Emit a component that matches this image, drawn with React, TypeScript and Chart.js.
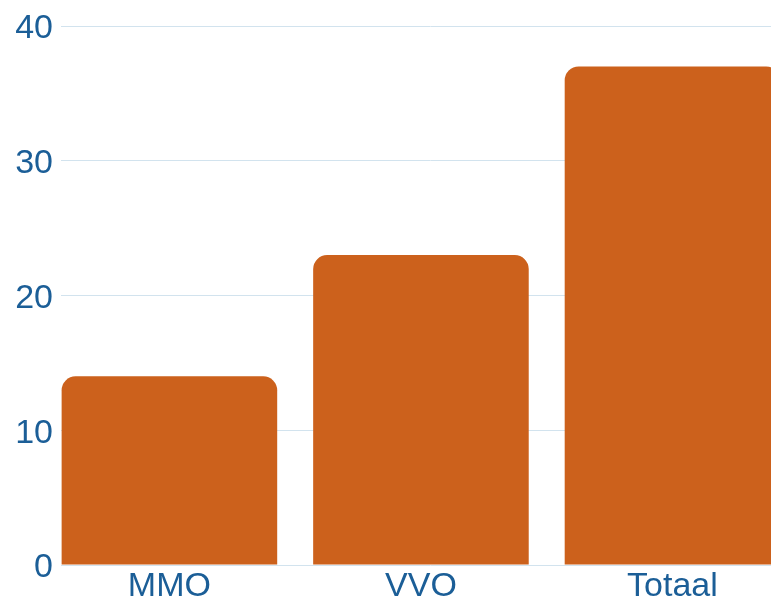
import React, { useEffect, useRef } from "react";
import { Chart, registerables } from "chart.js";

Chart.register(...registerables);

const categories = ["MMO", "VVO", "Totaal"];
const values = [14, 23, 37];
const yTicks = [0, 10, 20, 30, 40];

const BAR_COLOR = "#CC611C";
const TEXT_COLOR = "#1B5E97";
const GRID_COLOR = "#D2E3EE";
const FONT = { family: "'Liberation Sans', Arial, sans-serif", size: 34 };

export default function App() {
  const ref = useRef<HTMLCanvasElement | null>(null);

  useEffect(() => {
    const canvas = ref.current;
    if (!canvas) return;
    const chart = new Chart(canvas, {
      type: "bar",
      data: {
        datasets: [
          {
            data: values.map((v, i) => ({ x: i, y: v })),
            backgroundColor: BAR_COLOR,
            borderRadius: 14,
            borderSkipped: "start",
            categoryPercentage: 0.857,
            barPercentage: 1,
          },
        ],
      },
      options: {
        responsive: false,
        animation: false,
        devicePixelRatio: 1,
        layout: { padding: { top: 26, left: 0, right: 0, bottom: 0 } },
        plugins: { legend: { display: false }, tooltip: { enabled: false } },
        scales: {
          x: {
            type: "linear",
            offset: false,
            min: -0.431,
            max: 2.507,
            grid: { display: false, drawTicks: false, offset: false },
            border: { display: false },
            afterBuildTicks: (scale: any) => {
              scale.ticks = categories.map((_, i) => ({ value: i }));
            },
            afterFit: (scale: any) => {
              scale.height = 35;
              scale.paddingLeft = 0;
              scale.paddingRight = 0;
            },
            ticks: {
              color: TEXT_COLOR,
              font: FONT,
              padding: 1,
              maxRotation: 0,
              autoSkip: false,
              callback: (v: any) => categories[v] ?? "",
            },
          },
          y: {
            min: yTicks[0],
            max: yTicks[yTicks.length - 1],
            grid: { color: GRID_COLOR, drawTicks: false, lineWidth: 1 },
            border: { display: false },
            afterFit: (scale: any) => {
              scale.width = 61;
              scale.paddingTop = 0;
              scale.paddingBottom = 0;
            },
            ticks: {
              stepSize: 10,
              color: TEXT_COLOR,
              font: FONT,
              padding: 8,
              labelOffset: 3,
            },
          },
        },
      },
    } as any);
    return () => chart.destroy();
  }, []);

  return (
    <div
      style={{
        position: "absolute",
        left: 0,
        top: 0,
        width: 771,
        height: 600,
        overflow: "hidden",
        background: "#fff",
      }}
    >
      <canvas ref={ref} width={800} height={600} style={{ display: "block" }} />
    </div>
  );
}
